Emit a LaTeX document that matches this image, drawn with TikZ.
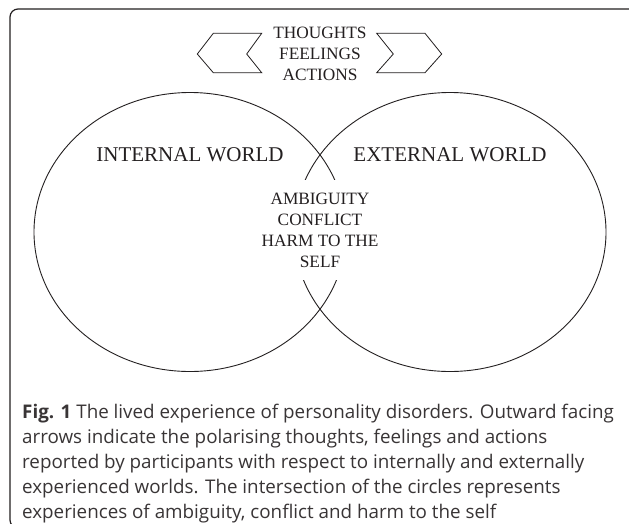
\documentclass[tikz,border=0pt]{standalone}
\usepackage{fontspec}
\setmainfont{Liberation Serif}
\newfontfamily\capfont{Open Sans}
\usetikzlibrary{shapes.geometric}
\definecolor{ink}{HTML}{231F20}
\begin{document}
\begin{tikzpicture}[x=1pt,y=-1pt,
  world/.style={draw=ink, line width=0.9pt, ellipse, minimum width=312pt, minimum height=279pt, inner sep=0pt},
  wlabel/.style={text=ink, inner sep=0pt, font=\fontsize{21}{24}\selectfont},
  smalltext/.style={text=ink, align=center, font=\fontsize{17.3}{21}\selectfont},
  chevron/.style={draw=ink, line width=0.8pt, line join=miter},
  frame/.style={draw=ink, line width=1.2pt, rounded corners=8pt},
  captext/.style={anchor=north west, align=left, text=ink!90, inner sep=0pt, font=\capfont\fontsize{18.8pt}{25pt}\selectfont}]
\useasboundingbox (0,0) rectangle (629,523);
\clip (0,0) rectangle (629,523);
\fill[white] (0,0) rectangle (629,523);
\draw[frame] (10,9) rectangle (640,528);
% circles
\node[world] (leftw) at (190,232) {};
\node[world] (rightw) at (450,232) {};
% labels
\node[wlabel] (inw) at (190,155) {INTERNAL WORLD};
\node[wlabel] (exw) at (450,155) {EXTERNAL WORLD};
\node[smalltext, fill=white, minimum height=100pt, inner xsep=5pt] (mid) at (320,230) {AMBIGUITY\\CONFLICT\\HARM TO THE\\SELF};
% top
\node[smalltext, inner sep=0pt] (top) at (320,54) {THOUGHTS\\FEELINGS\\ACTIONS};
\draw[chevron] (197.3,54) -- (213.3,33.3) -- (261.7,33.3) -- (246.7,54) -- (261.7,72.7) -- (213.3,72.7) -- cycle;
\draw[chevron] (441.7,54) -- (425,33.3) -- (376.7,33.3) -- (393.3,54) -- (376.7,72.7) -- (425,72.7) -- cycle;
% caption
\node[captext] (cap) at (22,404)
{\textbf{Fig. 1} The lived experience of personality disorders. Outward facing\\
arrows indicate the polarising thoughts, feelings and actions\\
reported by participants with respect to internally and externally\\
experienced worlds. The intersection of the circles represents\\
experiences of ambiguity, conflict and harm to the self};
\end{tikzpicture}
\end{document}
